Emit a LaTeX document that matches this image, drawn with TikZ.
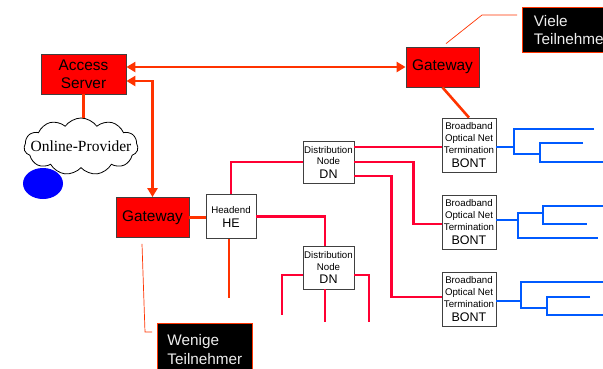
\documentclass[tikz,border=0pt]{standalone}
\usepackage{fontspec}
\setmainfont{Liberation Sans}
\newfontfamily\cloudfont{Liberation Serif}
\usetikzlibrary{arrows.meta,shapes.symbols,shapes.geometric}
\definecolor{fiber}{RGB}{255,0,51}
\definecolor{feed}{RGB}{255,51,0}
\definecolor{coax}{RGB}{0,90,255}
\definecolor{gwred}{RGB}{255,0,0}
\newcommand\abbrtext[1]{{\fontsize{12.5}{14}\selectfont #1}}

\begin{document}
\begin{tikzpicture}[x=1pt,y=-1pt,
  box/.style={draw=black!75, line width=0.8pt, inner sep=0pt, align=center},
  gwbox/.style={box, fill=gwred, font=\fontsize{15.4}{18}\selectfont},
  netbox/.style={box, fill=white, font=\fontsize{9.7}{11.7}\selectfont},
  tagbox/.style={fill=black, draw=feed, line width=0.8pt, text=white!93!black,
    font=\fontsize{15.3}{18.5}\selectfont, align=left, anchor=north west, inner sep=0pt},
  fiberline/.style={draw=fiber, line width=2.6pt},
  feedline/.style={draw=feed, line width=2.6pt},
  coaxline/.style={draw=coax, line width=2.6pt},
  arrowline/.style={feedline, {Triangle[length=9pt,width=10pt]}-{Triangle[length=9pt,width=10pt]}},
  calloutline/.style={draw=feed, line width=0.7pt}
]
\useasboundingbox (0,0) rectangle (603,368);
\clip (0,0) rectangle (603,368);

% --- provider side ---
\node[gwbox, minimum width=85, minimum height=40] (as) at (83.5,74) {Access\\Server};
\node[cloud, draw, line width=0.8pt, cloud puffs=11, cloud puff arc=110, aspect=2,
      minimum width=114, minimum height=57, inner sep=0pt] (isp) at (81,146.5) {};
\node[font=\cloudfont\fontsize{15.5}{17}\selectfont, inner sep=0pt] (isplabel) at (isp.center) {Online-Provider};
\node[ellipse, fill=blue, inner sep=0pt, minimum width=40, minimum height=31] (dot) at (43,183.5) {};

% --- gateways ---
\node[gwbox, minimum width=73, minimum height=40] (gwt) at (442.5,67) {Gateway};
\node[gwbox, minimum width=73, minimum height=40] (gwl) at (152.5,217.5) {Gateway};

% --- access network ---
\node[netbox, minimum width=50, minimum height=44] (he) at (231,216.5) {Headend\\[2.3pt]\abbrtext{HE}};
\node[netbox, minimum width=51, minimum height=42] (dn1) at (328.5,162) {Distribution\\Node\\[1.6pt]\abbrtext{DN}};
\node[netbox, minimum width=51, minimum height=43] (dn2) at (328.5,267.5) {Distribution\\Node\\[1.6pt]\abbrtext{DN}};
\foreach \n/\y in {bont1/145, bont2/222, bont3/299}
  \node[netbox, minimum width=54, minimum height=54] (\n) at (469,\y)
    {Broadband\\Optical Net\\Termination\\[2.6pt]\abbrtext{BONT}};

% --- subscriber tags ---
\node[tagbox, minimum width=98, minimum height=45] (viele) at (522,7) {Viele\\Teilnehmer};
\node[tagbox, minimum width=95, minimum height=52] (wenige) at (157,323) {Wenige\\Teilnehmer};

% --- backbone connections ---
\draw[arrowline] (as.east |- gwt.west) -- (gwt.west);
\draw[arrowline] ([yshift=-7pt]as.east) -| (gwl.north);
\draw[feedline] (as.south) -- (as.south |- isp.north);
\draw[feedline] (gwt.south) -- (bont1.north);
\draw[feedline] (gwl.east) -- (gwl.east -| he.west);
\coordinate (hedrop) at (229,298);
\draw[feedline] ([xshift=-2pt]he.south) -- (hedrop);

% --- fibre from the headend ---
\draw[fiberline] (he.north) |- (dn1.west);
\draw[fiberline] (he.east) -| ([xshift=-3.5pt]dn2.north);

\coordinate (b1in) at ([yshift=-2pt]bont1.west);
\coordinate (b2in) at ([yshift=-2pt]bont2.west);
\coordinate (b3in) at ([yshift=2pt]bont3.west);
\draw[fiberline] (dn1.east |- b1in) -- (b1in);
\draw[fiberline] (dn1.east) -- ++(59,0) |- (b2in);
\draw[fiberline] ([yshift=-14pt]dn1.east) -- ++(37,0) |- (b3in);

\coordinate (dnl) at (282,315);
\coordinate (dnm) at (325,322);
\coordinate (dnr) at (369,322);
\draw[fiberline] ([yshift=-7.5pt]dn2.west) -| (dnl);
\draw[fiberline] ([xshift=-3.5pt]dn2.south) -- (dnm);
\draw[fiberline] ([yshift=-7.5pt]dn2.east) -| (dnr);

% --- coax trees behind each BONT ---
\draw[coaxline] ([yshift=-2pt]bont1.east) -- (514,147);
\draw[coaxline] (594,129) -- (514,129) -- (514,154) -- (540,154);
\draw[coaxline] (583,143) -- (540,143) -- (540,162) -- (603,162);

\draw[coaxline] ([yshift=2pt]bont2.east) -- (518,220);
\draw[coaxline] (543,213) -- (518,213) -- (518,238) -- (598,238);
\draw[coaxline] (603,206) -- (543,206) -- (543,224) -- (587,224);

\draw[coaxline] ([yshift=-2pt]bont3.east) -- (521,301);
\draw[coaxline] (603,282) -- (521,282) -- (521,308) -- (547,308);
\draw[coaxline] (590,297) -- (547,297) -- (547,315) -- (603,315);

% --- callout leaders ---
\coordinate (vbend) at (482,15);
\coordinate (vend) at (517,15);
\draw[calloutline] ([xshift=3.5pt,yshift=3pt]gwt.north) -- (vbend) -- (vend);
\coordinate (wbend) at (145,332);
\coordinate (wend) at (152,332);
\draw[calloutline] ([xshift=-10.5pt,yshift=-6pt]gwl.south) -- (wbend) -- (wend);
\end{tikzpicture}
\end{document}
